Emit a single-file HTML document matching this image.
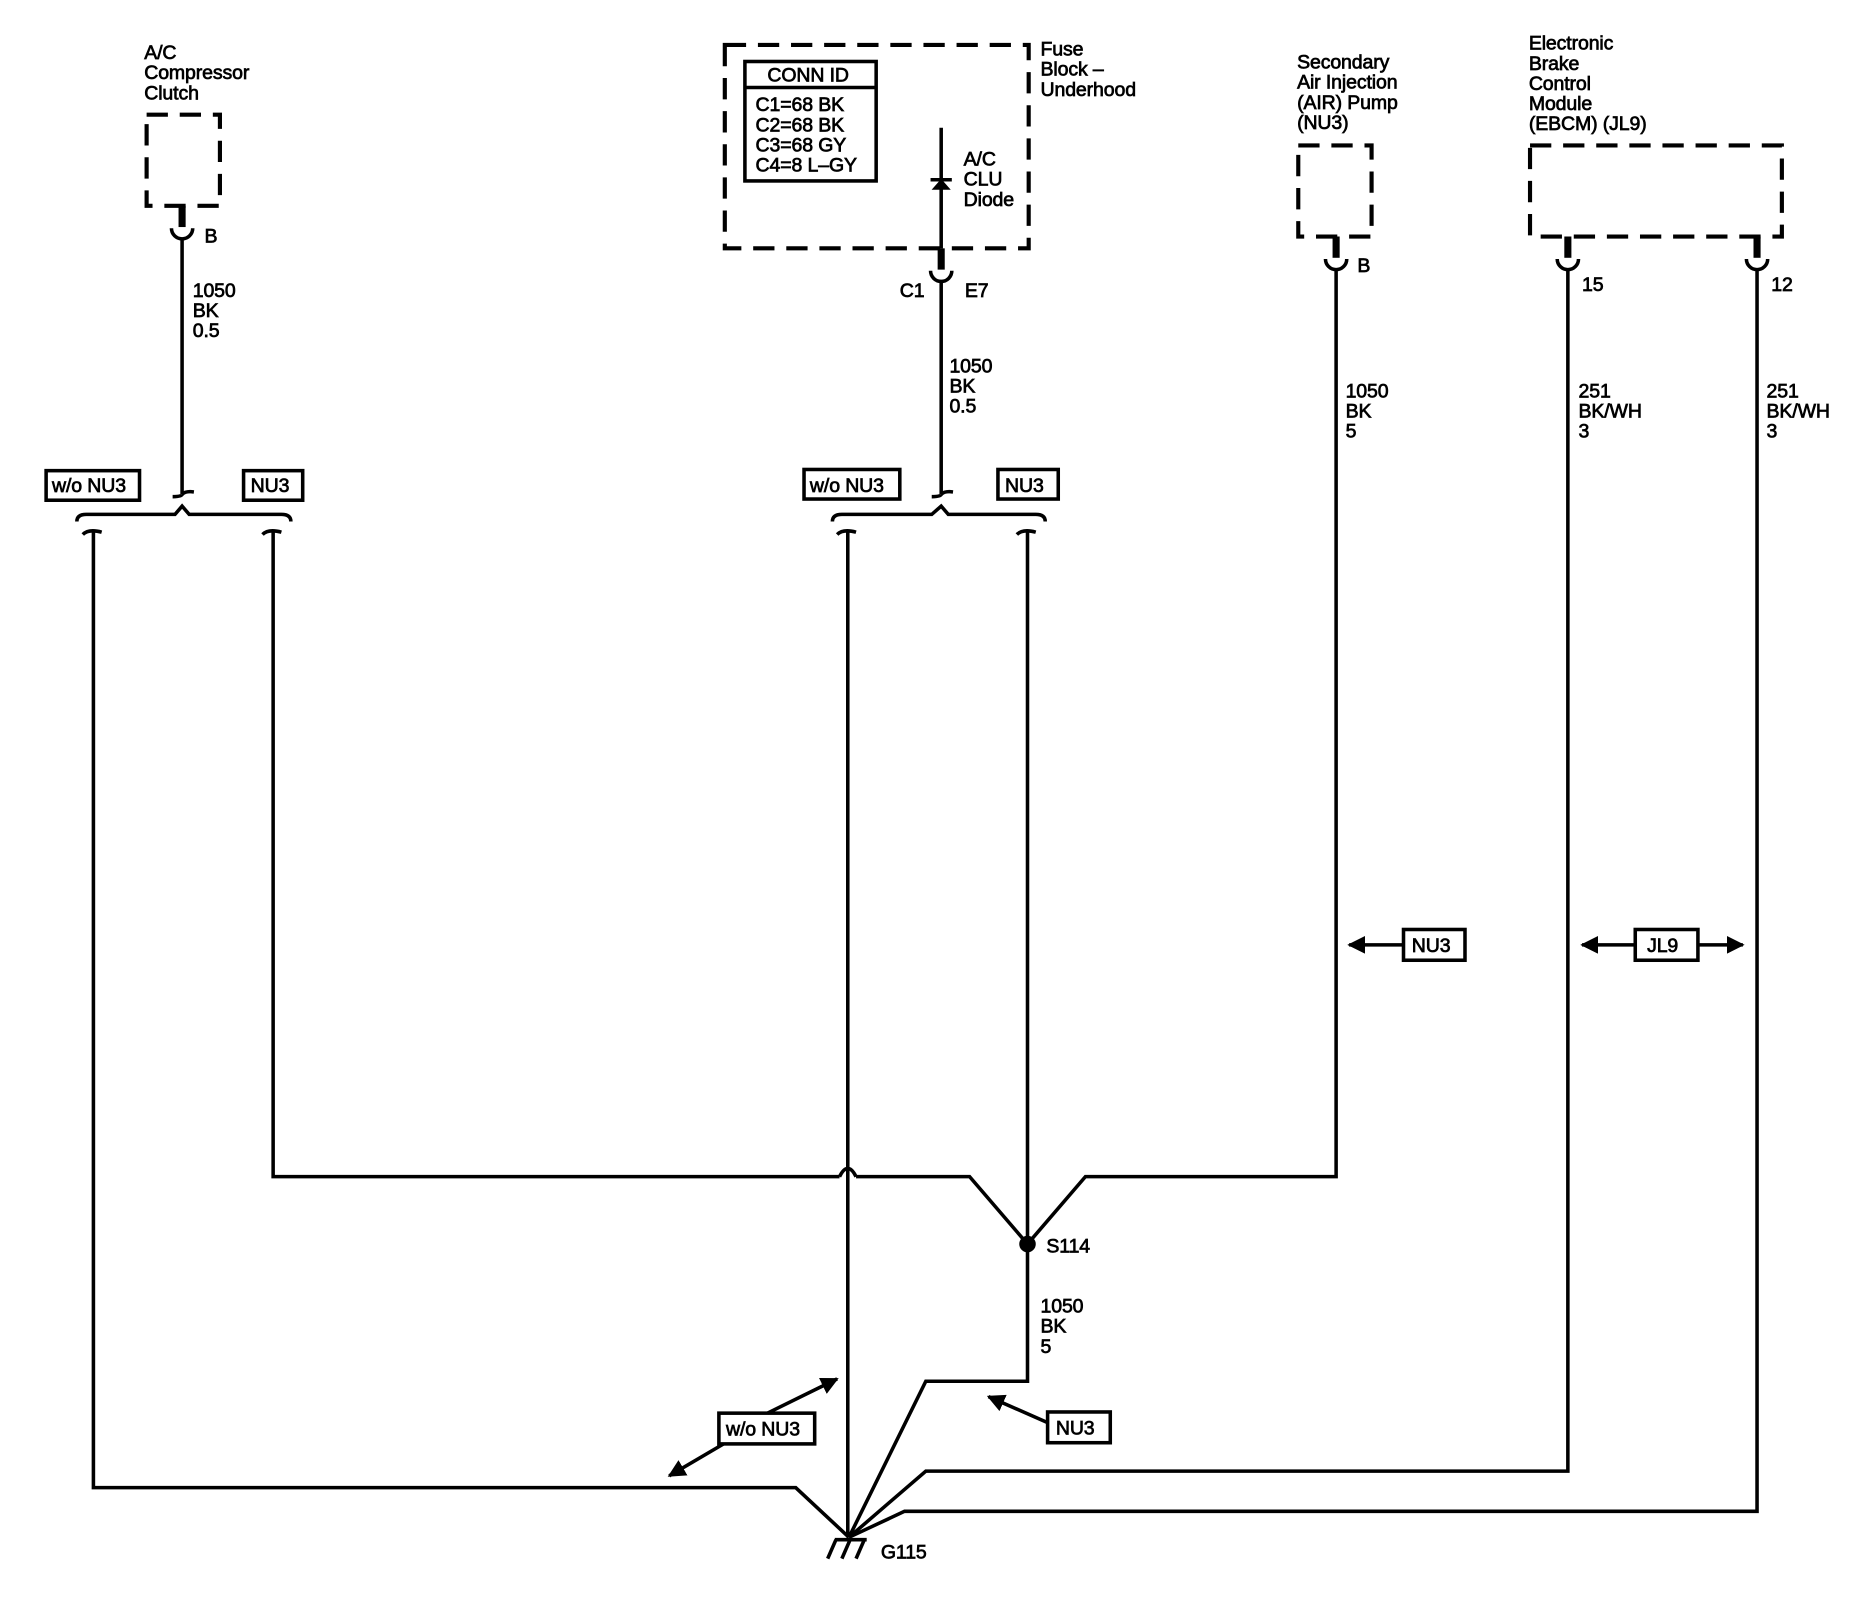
<!DOCTYPE html>
<html><head><meta charset="utf-8"><style>
html,body{margin:0;padding:0;background:#fff;}
svg{display:block;}
text{font-family:"Liberation Sans",Arial,sans-serif;font-size:16.5px;fill:#000;stroke:#000;stroke-width:0.6;letter-spacing:-0.1px;}
</style></head><body>
<svg width="1854" height="1600" viewBox="0 0 1568 1353" preserveAspectRatio="none" xmlns="http://www.w3.org/2000/svg">
<defs>
<marker id="ah" viewBox="0 0 10 10" refX="9" refY="5" markerWidth="5" markerHeight="5" orient="auto-start-reverse"><path d="M0,0 L10,5 L0,10 z" fill="#000"/></marker>
</defs>
<g fill="none" stroke="#000" stroke-width="3">
<g stroke-width="3.5" stroke-dasharray="18,10">
<rect x="124" y="97" width="62" height="77"/>
<rect x="613" y="38" width="257" height="172"/>
<rect x="1098" y="123" width="62" height="77"/>
<rect x="1294" y="123" width="213" height="77"/>
</g>
<g stroke-width="6">
<line x1="154" y1="174" x2="154" y2="192"/>
<line x1="796" y1="210" x2="796" y2="228"/>
<line x1="1130" y1="200" x2="1130" y2="218"/>
<line x1="1326" y1="200" x2="1326" y2="218"/>
<line x1="1486" y1="200" x2="1486" y2="218"/>
</g>
<path d="M145,193 A9,9 0 0 0 163,193"/>
<path d="M787,229 A9,9 0 0 0 805,229"/>
<path d="M1121,219 A9,9 0 0 0 1139,219"/>
<path d="M1317,219 A9,9 0 0 0 1335,219"/>
<path d="M1477,219 A9,9 0 0 0 1495,219"/>
<rect x="630" y="52" width="111" height="101" stroke-width="3"/>
<line x1="630" y1="74" x2="741" y2="74"/>
<line x1="796" y1="108" x2="796" y2="210"/>
<line x1="787" y1="152" x2="805" y2="152"/>
<path d="M789,160 L803,160 L796,152 z" fill="#000" stroke-width="1"/>
<line x1="154" y1="202" x2="154" y2="418"/>
<path d="M154,418 q0,2 -8,2"/>
<path d="M154,418 q3,-3 10,-2"/>
<line x1="796" y1="238" x2="796" y2="418"/>
<path d="M796,418 q0,2 -8,2"/>
<path d="M796,418 q3,-3 10,-2"/>
<path d="M65,441 q0,-6 8,-6 L148,435 L154,428 L160,435 L238,435 q8,0 8,6"/>
<path d="M704,441 q0,-6 8,-6 L788,435 L796,428 L802,435 L876,435 q8,0 8,6"/>
<path d="M70,452 q5,-5 16,-2"/><path d="M222,452 q5,-5 16,-2"/>
<path d="M708,452 q5,-5 16,-2"/><path d="M860,452 q5,-5 16,-2"/>
<polyline points="79,450 79,1258 673,1258 718,1300"/>
<polyline points="231,450 231,995 710,995"/>
<path d="M710,995 q7,-14 14,0"/>
<polyline points="724,995 820,995 869,1052"/>
<polyline points="1130,228 1130,995 918,995 869,1052"/>
<line x1="717" y1="450" x2="717" y2="1300"/>
<polyline points="869,450 869,1168 783,1168 718,1300"/>
<polyline points="1326,228 1326,1244 783,1244 718,1300"/>
<polyline points="1486,228 1486,1278 765,1278 718,1300"/>
<line x1="706" y1="1302" x2="733" y2="1302"/>
<line x1="707" y1="1302" x2="700" y2="1318"/>
<line x1="719" y1="1302" x2="712" y2="1318"/>
<line x1="731" y1="1302" x2="724" y2="1318"/>
<rect x="39" y="398" width="79" height="25"/>
<rect x="206" y="398" width="50" height="25"/>
<rect x="680" y="397" width="81" height="25"/>
<rect x="844" y="397" width="51" height="25"/>
<rect x="1187" y="786" width="52" height="26"/>
<rect x="1383" y="786" width="53" height="26"/>
<rect x="608" y="1195" width="81" height="26"/>
<rect x="886" y="1194" width="53" height="26"/>
<line x1="1187" y1="799" x2="1141" y2="799" marker-end="url(#ah)"/>
<line x1="1383" y1="799" x2="1338" y2="799" marker-end="url(#ah)"/>
<line x1="1436" y1="799" x2="1474" y2="799" marker-end="url(#ah)"/>
<line x1="649" y1="1195" x2="708" y2="1166" marker-end="url(#ah)"/>
<line x1="612" y1="1221" x2="566" y2="1248" marker-end="url(#ah)"/>
<line x1="886" y1="1203" x2="836" y2="1181" marker-end="url(#ah)"/>
</g>
<circle cx="869" cy="1052" r="7" fill="#000"/>
<text x="122" y="50">A/C</text>
<text x="122" y="67">Compressor</text>
<text x="122" y="84">Clutch</text>
<text x="173" y="205">B</text>
<text x="163" y="251">1050</text><text x="163" y="268">BK</text><text x="163" y="285">0.5</text>
<text x="44" y="416">w/o NU3</text>
<text x="212" y="416">NU3</text>
<text x="649" y="69">CONN ID</text>
<text x="639" y="94">C1=68 BK</text>
<text x="639" y="111">C2=68 BK</text>
<text x="639" y="128">C3=68 GY</text>
<text x="639" y="145">C4=8 L–GY</text>
<text x="880" y="47">Fuse</text>
<text x="880" y="64">Block –</text>
<text x="880" y="81">Underhood</text>
<text x="815" y="140">A/C</text><text x="815" y="157">CLU</text><text x="815" y="174">Diode</text>
<text x="761" y="251">C1</text><text x="816" y="251">E7</text>
<text x="803" y="315">1050</text><text x="803" y="332">BK</text><text x="803" y="349">0.5</text>
<text x="685" y="416">w/o NU3</text>
<text x="850" y="416">NU3</text>
<text x="1097" y="58">Secondary</text>
<text x="1097" y="75">Air Injection</text>
<text x="1097" y="92">(AIR) Pump</text>
<text x="1097" y="109">(NU3)</text>
<text x="1148" y="230">B</text>
<text x="1138" y="336">1050</text><text x="1138" y="353">BK</text><text x="1138" y="370">5</text>
<text x="1293" y="42">Electronic</text>
<text x="1293" y="59">Brake</text>
<text x="1293" y="76">Control</text>
<text x="1293" y="93">Module</text>
<text x="1293" y="110">(EBCM) (JL9)</text>
<text x="1338" y="246">15</text><text x="1498" y="246">12</text>
<text x="1335" y="336">251</text><text x="1335" y="353">BK/WH</text><text x="1335" y="370">3</text>
<text x="1494" y="336">251</text><text x="1494" y="353">BK/WH</text><text x="1494" y="370">3</text>
<text x="1194" y="805">NU3</text>
<text x="1393" y="805">JL9</text>
<text x="885" y="1059">S114</text>
<text x="880" y="1110">1050</text><text x="880" y="1127">BK</text><text x="880" y="1144">5</text>
<text x="614" y="1214">w/o NU3</text>
<text x="893" y="1213">NU3</text>
<text x="745" y="1318">G115</text>
</svg>
</body></html>
